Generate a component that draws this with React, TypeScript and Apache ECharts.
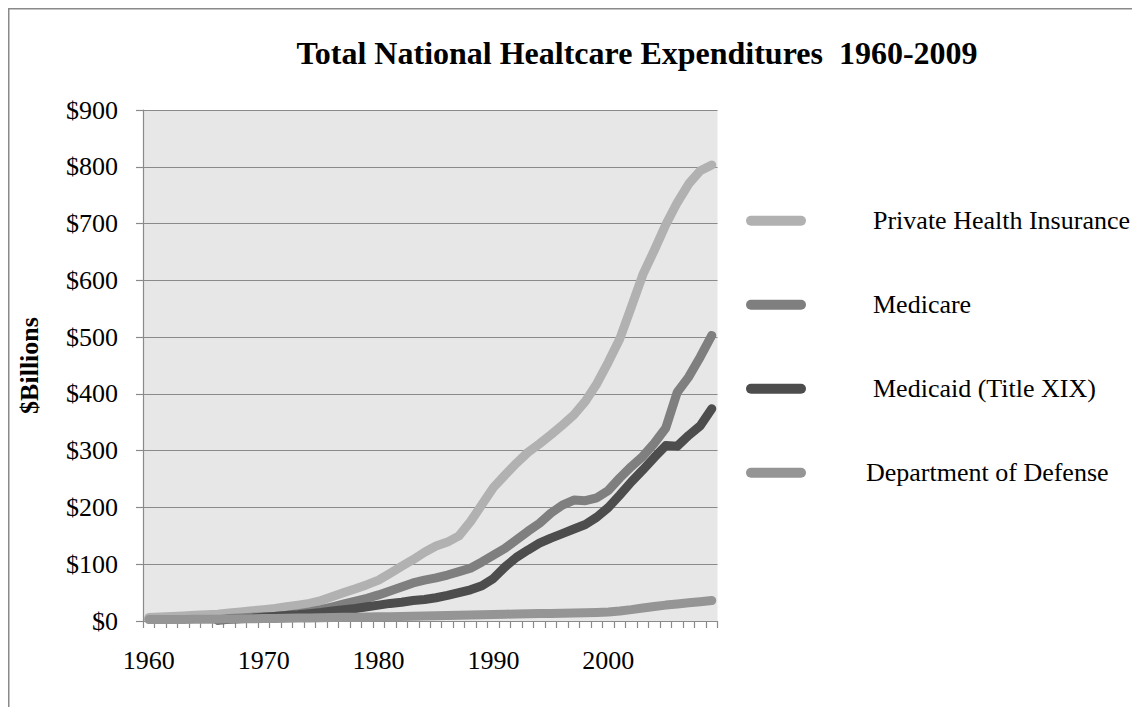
import React, { useEffect, useRef } from "react";
import * as echarts from "echarts";

const years = [
  "1960", "1961", "1962", "1963", "1964", "1965", "1966", "1967", "1968", "1969",
  "1970", "1971", "1972", "1973", "1974", "1975", "1976", "1977", "1978", "1979",
  "1980", "1981", "1982", "1983", "1984", "1985", "1986", "1987", "1988", "1989",
  "1990", "1991", "1992", "1993", "1994", "1995", "1996", "1997", "1998", "1999",
  "2000", "2001", "2002", "2003", "2004", "2005", "2006", "2007", "2008", "2009",
];

const privateHealthInsurance = [
  6, 7, 8, 9, 10, 11, 12, 14, 16, 18,
  20, 22, 25, 28, 31, 36, 43, 50, 57, 64,
  72, 84, 96, 108, 121, 132, 139, 150, 175, 205,
  235, 257, 278, 297, 312, 328, 345, 363, 387, 418,
  456, 497, 553, 610, 653, 698, 737, 770, 793, 803,
];

const medicare = [
  null, null, null, null, null, null, 2, 4.5, 5.5, 6.5,
  7.5, 8.5, 10, 13, 16, 20, 25, 30, 35, 40,
  46, 53, 60, 67, 72, 76, 81, 87, 93, 104,
  116, 128, 143, 158, 172, 190, 204, 213, 212, 217,
  230, 252, 272, 290, 313, 340, 403, 430, 465, 503,
];

const medicaid = [
  null, null, null, null, null, null, 1.3, 3, 4, 5,
  6.5, 8, 9.5, 11, 13, 15, 17.5, 20, 22, 25,
  28, 31, 33, 36, 38, 41, 45, 50, 55, 62,
  75, 95, 112, 125, 137, 146, 154, 162, 170, 183,
  200, 222, 245, 266, 288, 309, 308, 327, 344, 374,
];

const departmentOfDefense = [
  2.5, 2.6, 2.7, 2.8, 2.9, 3.0, 3.2, 3.5, 3.8, 4.0,
  4.3, 4.6, 4.9, 5.2, 5.5, 5.8, 6.1, 6.4, 6.7, 7.0,
  7.3, 7.7, 8.1, 8.5, 8.9, 9.3, 9.7, 10.1, 10.5, 11.0,
  11.5, 12.0, 12.4, 12.8, 13.1, 13.4, 13.7, 14.0, 14.4, 15.0,
  16.0, 17.5, 20.0, 23.0, 25.5, 28.0, 30.0, 32.0, 34.0, 36.0,
];

const seriesNames = [
  "Private Health Insurance",
  "Medicare",
  "Medicaid (Title XIX)",
  "Department of Defense",
];
const seriesColors = ["#b1b1b1", "#7f7f7f", "#4d4d4d", "#959595"];
const seriesData = [privateHealthInsurance, medicare, medicaid, departmentOfDefense];

const yTicks = { min: 0, max: 900, interval: 100 };

const FONT = "'Liberation Serif', 'Times New Roman', Times, serif";
const GRID_COLOR = "#8a8a8a";

export default function App() {
  const ref = useRef<HTMLDivElement>(null);

  useEffect(() => {
    const chart = echarts.init(ref.current!, null, { renderer: "svg" });
    chart.setOption({
      animation: false,
      backgroundColor: "#ffffff",
      textStyle: { fontFamily: FONT },
      graphic: [
        {
          type: "polyline",
          shape: { points: [[0.75, 707], [0.75, 0.75], [1132, 0.75]] },
          style: { stroke: "#8a8a8a", lineWidth: 1.5, fill: "none" },
          silent: true,
        },
        {
          type: "text",
          x: 629,
          y: 44.5,
          style: {
            text: "Total National Healtcare Expenditures  1960-2009",
            font: `bold 32px ${FONT}`,
            fill: "#000",
            align: "center",
            verticalAlign: "middle",
          },
        },
      ],
      grid: {
        left: 135,
        top: 102,
        width: 574.5,
        height: 511,
        show: true,
        backgroundColor: "#e7e7e7",
        borderWidth: 0,
        containLabel: false,
      },
      legend: {
        orient: "vertical",
        left: 738,
        top: 199.7,
        padding: 0,
        itemWidth: 60,
        itemHeight: 10,
        itemGap: 58,
        icon: "path://M5,0 L55,0 A5,5 0 0 1 55,10 L5,10 A5,5 0 0 1 5,0 Z",
        textStyle: {
          fontFamily: FONT,
          fontSize: 26,
          lineHeight: 26,
          color: "#000",
          padding: [0, 0, 0, 62],
        },
        data: seriesNames.map((n, i) => ({
          name: n,
          textStyle: { padding: [0, 0, 0, i === 3 ? 55 : 62] },
        })),
      },
      xAxis: {
        type: "category",
        data: years,
        boundaryGap: true,
        axisLine: { show: true, lineStyle: { color: GRID_COLOR, width: 1.2 } },
        axisTick: {
          show: true,
          interval: 0,
          length: 7,
          alignWithLabel: false,
          lineStyle: { color: GRID_COLOR, width: 1.2 },
        },
        axisLabel: {
          interval: 9,
          margin: 26,
          fontFamily: FONT,
          fontSize: 26,
          color: "#000",
        },
        splitLine: { show: false },
      },
      yAxis: {
        type: "value",
        min: yTicks.min,
        max: yTicks.max,
        interval: yTicks.interval,
        name: "$Billions",
        nameLocation: "middle",
        nameRotate: 90,
        nameGap: 101,
        nameTextStyle: {
          fontFamily: FONT,
          fontSize: 26,
          fontWeight: "bold",
          color: "#000",
        },
        axisLine: { show: true, lineStyle: { color: GRID_COLOR, width: 1.2 } },
        axisTick: { show: true, length: 7, lineStyle: { color: GRID_COLOR, width: 1.2 } },
        axisLabel: {
          margin: 25,
          fontFamily: FONT,
          fontSize: 26,
          color: "#000",
          formatter: (v: number) => "$" + v,
        },
        splitLine: { show: true, lineStyle: { color: GRID_COLOR, width: 1.2 } },
      },
      series: seriesNames.map((name, i) => ({
        name,
        type: "line",
        data: seriesData[i],
        showSymbol: false,
        symbol: "none",
        smooth: false,
        color: seriesColors[i],
        itemStyle: { color: seriesColors[i] },
        lineStyle: { color: seriesColors[i], width: 9, cap: "round", join: "round" },
        emphasis: { disabled: true },
      })),
    });
    return () => chart.dispose();
  }, []);

  return <div ref={ref} style={{ width: 1132, height: 707, marginBottom: -8 }} />;
}
